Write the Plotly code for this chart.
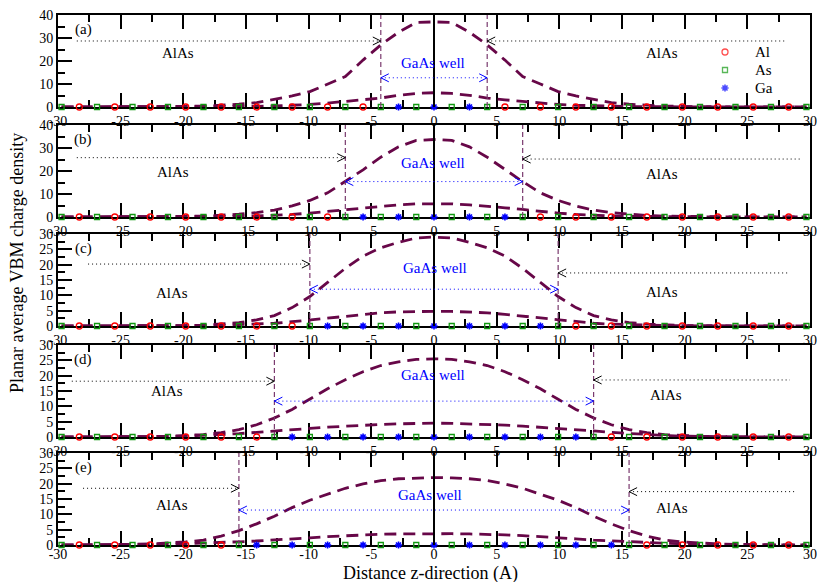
import plotly.graph_objects as go

W, H = 817, 582
FONT = "Liberation Serif, Times New Roman, serif"
MAROON = "#670748"

# atomic plane positions along z (Angstrom)
z = [-29.715, -28.3, -26.885, -25.47, -24.055, -22.64, -21.225, -19.81, -18.395, -16.98,
     -15.565, -14.15, -12.735, -11.32, -9.905, -8.49, -7.075, -5.66, -4.245, -2.83, -1.415,
     0.0,
     1.415, 2.83, 4.245, 5.66, 7.075, 8.49, 9.905, 11.32, 12.735, 14.15, 15.565,
     16.98, 18.395, 19.81, 21.225, 22.64, 24.055, 25.47, 26.885, 28.3, 29.715]

# charge density curves (two per panel)
a_big = [0, 0, 0, 0, 0, 0.05, 0.1, 0.25, 0.4, 0.7, 1.2, 1.9, 3.3, 4.8, 6.7, 10.0, 13.2, 20.4, 27.0, 32.5, 36.8,
         37.0,
         36.8, 32.5, 27.0, 20.4, 13.2, 10.0, 6.7, 4.8, 3.3, 1.9, 1.2, 0.7, 0.4, 0.25, 0.1, 0.05, 0, 0, 0, 0, 0]
a_small = [0, 0, 0, 0, 0, 0, 0.02, 0.04, 0.07, 0.12, 0.2, 0.3, 0.5, 0.75, 1.1, 1.7, 2.4, 3.1, 3.9, 5.1, 5.9,
           6.2,
           5.9, 5.1, 3.9, 3.1, 2.4, 1.7, 1.1, 0.75, 0.5, 0.3, 0.2, 0.12, 0.07, 0.04, 0.02, 0, 0, 0, 0, 0, 0]
b_big = [0, 0, 0, 0, 0.05, 0.1, 0.15, 0.25, 0.4, 0.7, 1.2, 1.9, 3.0, 4.8, 7.2, 10.5, 15.4, 20.5, 26.0, 30.5, 33.3,
         33.7,
         33.3, 30.5, 26.0, 20.5, 15.4, 10.5, 7.2, 4.8, 3.0, 1.9, 1.2, 0.7, 0.4, 0.25, 0.15, 0.1, 0.05, 0, 0, 0, 0]
b_small = [0, 0, 0, 0, 0, 0, 0.02, 0.05, 0.1, 0.2, 0.3, 0.45, 0.7, 1.1, 1.7, 2.4, 3.3, 4.0, 4.8, 5.3, 5.7,
           5.8,
           5.7, 5.3, 4.8, 4.0, 3.3, 2.4, 1.7, 1.1, 0.7, 0.45, 0.3, 0.2, 0.1, 0.05, 0.02, 0, 0, 0, 0, 0, 0]
c_big = [0, 0, 0, 0, 0, 0.05, 0.1, 0.15, 0.3, 0.6, 1.1, 2.0, 3.4, 6.0, 9.6, 14.2, 18.8, 22.8, 25.5, 27.3, 28.7,
         29.0,
         28.7, 27.3, 25.5, 22.8, 18.8, 14.2, 9.6, 6.0, 3.4, 2.0, 1.1, 0.6, 0.3, 0.15, 0.1, 0.05, 0, 0, 0, 0, 0]
c_small = [0, 0, 0, 0, 0, 0, 0.04, 0.08, 0.15, 0.25, 0.4, 0.6, 0.9, 1.4, 2.0, 2.6, 3.2, 3.8, 4.3, 4.6, 4.75,
           4.8,
           4.75, 4.6, 4.3, 3.8, 3.2, 2.6, 2.0, 1.4, 0.9, 0.6, 0.4, 0.25, 0.15, 0.08, 0.04, 0, 0, 0, 0, 0, 0]
d_big = [0, 0, 0, 0, 0.06, 0.12, 0.25, 0.45, 0.8, 1.4, 2.4, 4.0, 6.2, 9.0, 12.3, 15.7, 18.7, 21.3, 23.3, 24.5, 25.3,
         25.5,
         25.3, 24.5, 23.3, 21.3, 18.7, 15.7, 12.3, 9.0, 6.2, 4.0, 2.4, 1.4, 0.8, 0.45, 0.25, 0.12, 0.06, 0, 0, 0, 0]
d_small = [0, 0, 0, 0, 0.05, 0.1, 0.18, 0.3, 0.5, 0.75, 1.1, 1.5, 2.0, 2.4, 2.8, 3.2, 3.55, 3.85, 4.1, 4.3, 4.45,
           4.5,
           4.45, 4.3, 4.1, 3.85, 3.55, 3.2, 2.8, 2.4, 2.0, 1.5, 1.1, 0.75, 0.5, 0.3, 0.18, 0.1, 0.05, 0, 0, 0, 0]
e_big = [0, 0, 0.05, 0.1, 0.2, 0.35, 0.6, 1.0, 1.6, 2.9, 4.7, 6.9, 9.4, 12.2, 14.6, 16.6, 18.5, 19.9, 21.0, 21.6, 21.9,
         22.0,
         21.9, 21.6, 21.0, 19.9, 18.5, 16.6, 14.6, 12.2, 9.4, 6.9, 4.7, 2.9, 1.6, 1.0, 0.6, 0.35, 0.2, 0.1, 0.05, 0, 0]
e_small = [0, 0, 0, 0.04, 0.08, 0.15, 0.25, 0.4, 0.6, 0.8, 1.05, 1.3, 1.6, 2.0, 2.35, 2.75, 3.05, 3.3, 3.5, 3.6, 3.68,
           3.7,
           3.68, 3.6, 3.5, 3.3, 3.05, 2.75, 2.35, 2.0, 1.6, 1.3, 1.05, 0.8, 0.6, 0.4, 0.25, 0.15, 0.08, 0.04, 0, 0, 0]

# atom positions (markers on the z axis)
as_z = [-29.715, -26.885, -24.055, -21.225, -18.395, -15.565, -12.735, -9.905, -7.075, -4.245, -1.415,
        1.415, 4.245, 7.075, 9.905, 12.735, 15.565, 18.395, 21.225, 24.055, 26.885, 29.715]
ga_a = [-2.83, 0.0, 2.83]
ga_b = [-5.66, -2.83, 0.0, 2.83, 5.66]
ga_c = [-8.49, -5.66, -2.83, 0.0, 2.83, 5.66, 8.49]
ga_d = [-11.32, -8.49, -5.66, -2.83, 0.0, 2.83, 5.66, 8.49, 11.32]
ga_e = [-14.15, -11.32, -8.49, -5.66, -2.83, 0.0, 2.83, 5.66, 8.49, 11.32, 14.15]
al_a = [-28.3, -25.47, -22.64, -19.81, -16.98, -14.15, -11.32, -8.49, -5.66,
        5.66, 8.49, 11.32, 14.15, 16.98, 19.81, 22.64, 25.47, 28.3]
al_b = [-28.3, -25.47, -22.64, -19.81, -16.98, -14.15, -11.32, -8.49,
        8.49, 11.32, 14.15, 16.98, 19.81, 22.64, 25.47, 28.3]
al_c = [-28.3, -25.47, -22.64, -19.81, -16.98, -14.15, -11.32,
        11.32, 14.15, 16.98, 19.81, 22.64, 25.47, 28.3]
al_d = [-28.3, -25.47, -22.64, -19.81, -16.98, -14.15,
        14.15, 16.98, 19.81, 22.64, 25.47, 28.3]
al_e = [-28.3, -25.47, -22.64, -19.81, -16.98,
        16.98, 19.81, 22.64, 25.47, 28.3]

x_tickvals = [-30, -25, -20, -15, -10, -5, 0, 5, 10, 15, 20, 25, 30]
x_ticktext = ["-30", "-25", "-20", "-15", "-10", "-5", "0", "5", "10", "15", "20", "25", "30"]

panel_labels = ["(a)", "(b)", "(c)", "(d)", "(e)"]
big = [a_big, b_big, c_big, d_big, e_big]
small = [a_small, b_small, c_small, d_small, e_small]
ga = [ga_a, ga_b, ga_c, ga_d, ga_e]
al = [al_a, al_b, al_c, al_d, al_e]
ymax = [40, 40, 30, 30, 30]
ydtick = [10, 10, 5, 5, 5]
yminor = [5, 5, 2.5, 2.5, 2.5]
iface = [4.245, 7.075, 9.905, 12.735, 15.565]
left_arrow_x = [-28.5, -28.5, -27.6, -28.9, -28.0]
left_arrow_y = [28.7, 25.8, 20.2, 18.2, 18.5]
right_arrow_x = [28.0, 29.4, 28.2, 28.4, 28.9]
right_arrow_y = [28.7, 25.2, 17.3, 18.6, 17.4]
left_text = [(-20.4, 23.6), (-20.8, 19.7), (-20.9, 10.8), (-21.3, 15.0), (-20.9, 13.0)]
right_text = [(18.2, 23.6), (18.2, 18.7), (18.2, 11.1), (18.5, 13.7), (19.0, 12.2)]
well_text = [(-0.1, 19.0), (-0.1, 23.3), (0.1, 18.8), (-0.1, 20.2), (-0.3, 16.3)]
well_arrow_y = [12.7, 15.4, 12.0, 11.7, 11.4]

legend_names = ["Al", "As", "Ga"]
legend_symbols = ["circle-open", "square-open", "asterisk-open"]
legend_colors = ["#ff0000", "#119911", "#0000ff"]

# layout geometry (pixels)
tops = [15, 125, 234, 345, 453]
bottoms = [107, 217, 326, 437, 545]
X0, X1 = 58, 810
XR = [-30, 30]
LEG_X, LEG_TEXT_X, LEG_Y0, LEG_DY = 725, 753, 52, 18


def px_to_x(p):
    return XR[0] + (p - X0) * (XR[1] - XR[0]) / (X1 - X0)


def px_to_y(p, i):
    return (bottoms[i] - p) * ymax[i] / (bottoms[i] - tops[i])


fig = go.Figure()
shapes = []
annotations = []
lay = {}

tickfont = dict(family=FONT, size=14, color="black")

for i in range(5):
    n = i + 1
    xa = "x" if n == 1 else f"x{n}"
    ya = "y" if n == 1 else f"y{n}"
    for series in (big[i], small[i]):
        fig.add_trace(go.Scatter(x=z, y=series, mode="lines",
                                 line=dict(color=MAROON, width=2.8, dash="12px,7px"),
                                 xaxis=xa, yaxis=ya, showlegend=False, hoverinfo="skip"))
    fig.add_trace(go.Scatter(x=al[i], y=[0] * len(al[i]), mode="markers", name="Al",
                             marker=dict(symbol="circle-open", size=6, color="#ff0000",
                                         line=dict(width=1.3, color="#ff0000")),
                             xaxis=xa, yaxis=ya, showlegend=False, cliponaxis=False))
    fig.add_trace(go.Scatter(x=as_z, y=[0] * len(as_z), mode="markers", name="As",
                             marker=dict(symbol="square-open", size=5, color="#119911",
                                         line=dict(width=1.3, color="#119911")),
                             xaxis=xa, yaxis=ya, showlegend=False, cliponaxis=False))
    fig.add_trace(go.Scatter(x=ga[i], y=[0] * len(ga[i]), mode="markers", name="Ga",
                             marker=dict(symbol="asterisk-open", size=6, color="#0000ff",
                                         line=dict(width=1.6, color="#0000ff")),
                             xaxis=xa, yaxis=ya, showlegend=False, cliponaxis=False))

    lay[f"xaxis{n}"] = dict(range=XR, domain=[X0 / W, X1 / W], anchor=ya, side="bottom",
                            automargin=False,
                            ticklabelstandoff=(-5 if n == 5 else 0),
                            tickmode="array", tickvals=x_tickvals, ticktext=x_ticktext,
                            ticks="inside", ticklen=14, tickwidth=2, tickcolor="black",
                            showline=True, mirror="allticks", linecolor="black", linewidth=2,
                            showgrid=False, zeroline=False,
                            minor=dict(tickmode="linear", tick0=0, dtick=2.5, ticks="inside", ticklen=7,
                                       tickwidth=1.5, tickcolor="black", showgrid=False),
                            tickfont=tickfont, layer="below traces", fixedrange=True)
    lay[f"yaxis{n}"] = dict(range=[0, ymax[i]], domain=[1 - bottoms[i] / H, 1 - tops[i] / H],
                            anchor=xa, automargin=False, tickmode="linear", tick0=0, dtick=ydtick[i],
                            ticks="inside", ticklen=14, tickwidth=2, tickcolor="black",
                            minor=dict(tickmode="linear", tick0=0, dtick=yminor[i], ticks="inside", ticklen=7,
                                       tickwidth=1.5, tickcolor="black", showgrid=False),
                            showline=True, mirror=True, linewidth=2, linecolor="black",
                            showgrid=False, zeroline=False, tickfont=tickfont,
                            layer="below traces", fixedrange=True)

    # geometry of arrowheads in data units
    dx = px_to_x(X0 + 8) - px_to_x(X0)
    dy = px_to_y(bottoms[i] - 4, i)
    f = iface[i]
    ref = dict(xref=xa, yref=ya)

    # zero line
    shapes.append(dict(type="line", x0=0, x1=0, y0=0, y1=ymax[i], line=dict(color="black", width=2), **ref))
    # interface lines
    for s in (-f, f):
        shapes.append(dict(type="line", x0=s, x1=s, y0=0, y1=ymax[i],
                           line=dict(color="#7a3a6e", width=1.2, dash="5px,3px"), **ref))
    # AlAs arrows (black dotted)
    ly = left_arrow_y[i]
    shapes.append(dict(type="line", x0=left_arrow_x[i], x1=-f, y0=ly, y1=ly,
                       line=dict(color="black", width=1, dash="1px,3px"), **ref))
    shapes.append(dict(type="path", path=f"M {-f - dx},{ly + dy} L {-f},{ly} L {-f - dx},{ly - dy}",
                       line=dict(color="black", width=1), **ref))
    ry = right_arrow_y[i]
    shapes.append(dict(type="line", x0=f, x1=right_arrow_x[i], y0=ry, y1=ry,
                       line=dict(color="black", width=1, dash="1px,3px"), **ref))
    shapes.append(dict(type="path", path=f"M {f + dx},{ry + dy} L {f},{ry} L {f + dx},{ry - dy}",
                       line=dict(color="black", width=1), **ref))
    # GaAs well arrow (blue dotted, both ends)
    wy = well_arrow_y[i]
    shapes.append(dict(type="line", x0=-f, x1=f, y0=wy, y1=wy,
                       line=dict(color="#0000ff", width=1, dash="1px,3px"), **ref))
    shapes.append(dict(type="path", path=f"M {-f + dx},{wy + dy} L {-f},{wy} L {-f + dx},{wy - dy}",
                       line=dict(color="#0000ff", width=1), **ref))
    shapes.append(dict(type="path", path=f"M {f - dx},{wy + dy} L {f},{wy} L {f - dx},{wy - dy}",
                       line=dict(color="#0000ff", width=1), **ref))

    # texts
    annotations.append(dict(x=left_text[i][0], y=left_text[i][1], text="AlAs", showarrow=False,
                            xanchor="center", yanchor="middle",
                            font=dict(family=FONT, size=15, color="black"), **ref))
    annotations.append(dict(x=right_text[i][0], y=right_text[i][1], text="AlAs", showarrow=False,
                            xanchor="center", yanchor="middle",
                            font=dict(family=FONT, size=15, color="black"), **ref))
    annotations.append(dict(x=well_text[i][0], y=well_text[i][1], text="GaAs well", showarrow=False,
                            xanchor="center", yanchor="middle",
                            font=dict(family=FONT, size=15, color="#0000ff"), **ref))
    annotations.append(dict(x=83 / W, y=1 - (tops[i] + 14) / H, xref="paper", yref="paper",
                            xanchor="center", yanchor="middle",
                            text=panel_labels[i], showarrow=False,
                            font=dict(family=FONT, size=15, color="black")))

# legend (keys drawn in panel (a))
leg_y_px = [LEG_Y0 + k * LEG_DY for k in range(len(legend_names))]
fig.add_trace(go.Scatter(x=[px_to_x(LEG_X)] * len(legend_names), y=[px_to_y(p, 0) for p in leg_y_px],
                         mode="markers", xaxis="x", yaxis="y", showlegend=False, hoverinfo="skip",
                         cliponaxis=False,
                         marker=dict(symbol=legend_symbols, size=[6, 5, 6], color=legend_colors,
                                     line=dict(width=[1.3, 1.3, 1.6], color=legend_colors))))
for name, p in zip(legend_names, leg_y_px):
    annotations.append(dict(x=LEG_TEXT_X / W, y=1 - p / H, xref="paper", yref="paper",
                            xanchor="left", yanchor="middle",
                            text=name, showarrow=False, font=dict(family=FONT, size=15, color="black")))

annotations.append(dict(x=17 / W, y=1 - 263 / H, xref="paper", yref="paper", textangle=-90,
                        xanchor="center", yanchor="middle",
                        text="Planar average VBM charge density", showarrow=False,
                        font=dict(family=FONT, size=18, color="black")))
annotations.append(dict(x=430 / W, y=1 - 573 / H, xref="paper", yref="paper",
                        xanchor="center", yanchor="middle",
                        text="Distance z-direction (A)", showarrow=False,
                        font=dict(family=FONT, size=18, color="black")))

fig.update_layout(
    template="none",
    width=W, height=H, autosize=False,
    margin=dict(l=0, r=0, t=0, b=0, pad=0, autoexpand=False),
    paper_bgcolor="white", plot_bgcolor="white",
    showlegend=False,
    shapes=shapes, annotations=annotations,
    **lay,
)

fig.write_html("out.html",
               post_script="document.body.style.margin='0';document.body.style.padding='0';")
